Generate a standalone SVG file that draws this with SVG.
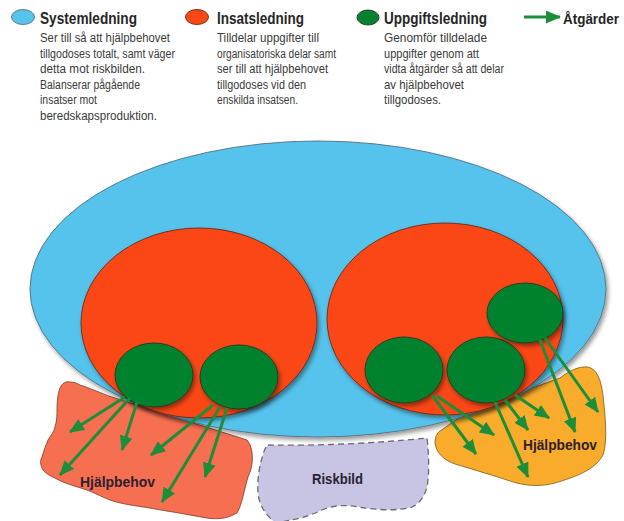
<svg xmlns="http://www.w3.org/2000/svg" width="624" height="521" viewBox="0 0 624 521">
<style>
.hd{font-family:"Liberation Sans",Arial,sans-serif;font-weight:bold;font-size:16px;fill:#262626}
.bd{font-family:"Liberation Sans",Arial,sans-serif;font-size:12.5px;fill:#3a3a3a}
.lb{font-family:"Liberation Sans",Arial,sans-serif;font-weight:bold;font-size:15px;fill:#2b2230}
.blue{fill:#56C3EC;stroke:#56707e;stroke-width:0.9}
.red{fill:#FB4714;stroke:#6b2a14;stroke-width:0.9}
.green{fill:#06812F;stroke:#1d3b22;stroke-width:0.9}
.arr{stroke:#1C8D38;stroke-width:3;fill:none;marker-end:url(#ah)}
</style>
<defs>
<marker id="ah" markerUnits="userSpaceOnUse" markerWidth="16" markerHeight="14" refX="14" refY="6.5" orient="auto">
<path d="M0,0 L15,6.5 L0,13 Z" fill="#1C8D38"/>
</marker>
<filter id="sh" x="-10%" y="-10%" width="130%" height="130%">
<feDropShadow dx="2" dy="3" stdDeviation="2" flood-color="#000" flood-opacity="0.4"/>
</filter>
</defs>

<g id="legend">
<g id="legend-system">
<ellipse class="blue" cx="23" cy="17" rx="11.5" ry="7.5" stroke="none"/>
<text class="hd" x="40" y="24" textLength="97" lengthAdjust="spacingAndGlyphs">Systemledning</text>
<text class="bd" x="40" y="42" textLength="130" lengthAdjust="spacingAndGlyphs">Ser till så att hjälpbehovet</text>
<text class="bd" x="40" y="57.6" textLength="135" lengthAdjust="spacingAndGlyphs">tillgodoses totalt, samt väger</text>
<text class="bd" x="40" y="73.2" textLength="105" lengthAdjust="spacingAndGlyphs">detta mot riskbilden.</text>
<text class="bd" x="40" y="88.8" textLength="100" lengthAdjust="spacingAndGlyphs">Balanserar pågående</text>
<text class="bd" x="40" y="104.4" textLength="57" lengthAdjust="spacingAndGlyphs">insatser mot</text>
<text class="bd" x="40" y="120" textLength="117" lengthAdjust="spacingAndGlyphs">beredskapsproduktion.</text>
</g>
<g id="legend-insats">
<ellipse class="red" cx="197" cy="17" rx="11.5" ry="7.5" stroke="none"/>
<text class="hd" x="217" y="24" textLength="87" lengthAdjust="spacingAndGlyphs">Insatsledning</text>
<text class="bd" x="217" y="42" textLength="102" lengthAdjust="spacingAndGlyphs">Tilldelar uppgifter till</text>
<text class="bd" x="217" y="57.6" textLength="119" lengthAdjust="spacingAndGlyphs">organisatoriska delar samt</text>
<text class="bd" x="217" y="73.2" textLength="111" lengthAdjust="spacingAndGlyphs">ser till att hjälpbehovet</text>
<text class="bd" x="217" y="88.8" textLength="89" lengthAdjust="spacingAndGlyphs">tillgodoses vid den</text>
<text class="bd" x="217" y="104.4" textLength="81" lengthAdjust="spacingAndGlyphs">enskilda insatsen.</text>
</g>
<g id="legend-uppgift">
<ellipse class="green" cx="368" cy="17.5" rx="11" ry="7.5" stroke="none"/>
<text class="hd" x="384" y="24" textLength="103" lengthAdjust="spacingAndGlyphs">Uppgiftsledning</text>
<text class="bd" x="384" y="42" textLength="103" lengthAdjust="spacingAndGlyphs">Genomför tilldelade</text>
<text class="bd" x="384" y="57.6" textLength="95" lengthAdjust="spacingAndGlyphs">uppgifter genom att</text>
<text class="bd" x="384" y="73.2" textLength="120" lengthAdjust="spacingAndGlyphs">vidta åtgärder så att delar</text>
<text class="bd" x="384" y="88.8" textLength="80" lengthAdjust="spacingAndGlyphs">av hjälpbehovet</text>
<text class="bd" x="384" y="104.4" textLength="57" lengthAdjust="spacingAndGlyphs">tillgodoses.</text>
</g>
<g id="legend-atgarder">
<line class="arr" x1="524" y1="17" x2="560" y2="17"/>
<text class="hd" x="563" y="24" style="font-size:14px" textLength="56" lengthAdjust="spacingAndGlyphs">Åtgärder</text>
</g>
</g>

<g id="hjalpbehov-left">
<path d="M80,385 C95,390 105,395 115,398 L247,440 C254,448 254,465 248,477 C244,490 242,505 237,513 C225,520 215,519 207,518 C195,516 185,514 173,512 C160,510 150,508 143,507 C130,505 118,503 110,500 C100,496 95,493 87,490 C78,487 70,485 63,482 C55,478 47,475 43,470 C40,465 40,460 42,457 C44,450 46,445 48,440 C51,435 54,432 55,427 C57,420 57,415 57,410 C57,400 58,393 60,388 C62,383 66,381 70,382 C74,382 77,383 80,385 Z" fill="#F66F50" stroke="#7a3a2a" stroke-width="0.8"/>
<text class="lb" x="117.5" y="487" text-anchor="middle" textLength="75" lengthAdjust="spacingAndGlyphs">Hjälpbehov</text>
</g>
<g id="riskbild">
<path d="M268,445 C320,446 380,443 427,438 C429,455 429,470 428,480 C427,493 421,503 412,507 C398,511 380,510 365,508 C352,506 338,503 322,510 C308,517 292,520 276,523 C266,516 259,505 258,493 C257,478 260,463 263,455 C264,450 266,447 268,445 Z" fill="#C8C4E4" stroke="#6a6a72" stroke-width="1.3" stroke-dasharray="6,4"/>
<text class="lb" x="337.5" y="484" text-anchor="middle" textLength="51" lengthAdjust="spacingAndGlyphs">Riskbild</text>
</g>
<g id="hjalpbehov-right">
<path d="M470,410 L560,378 C570,370 580,366 588,367 C597,369 601,380 603,395 C605,415 608,440 603,455 C595,470 575,477 555,483 C540,487 525,486 510,481 C495,476 475,470 455,464 C443,460 436,452 435,443 C435,437 437,433 440,431 Z" fill="#F9AC2C" stroke="#7a5a1a" stroke-width="0.8"/>
<text class="lb" x="560" y="450" text-anchor="middle" textLength="74" lengthAdjust="spacingAndGlyphs">Hjälpbehov</text>
</g>

<g id="systemledning">
<ellipse class="blue" cx="318" cy="289" rx="288" ry="148" filter="url(#sh)"/>
</g>
<g id="insats-left">
<ellipse class="red" cx="199" cy="323" rx="118" ry="95" filter="url(#sh)"/>
</g>
<g id="insats-right">
<ellipse class="red" cx="445" cy="319" rx="118" ry="96" filter="url(#sh)"/>
</g>
<g id="uppgift-1"><ellipse class="green" cx="154" cy="375" rx="39" ry="32" filter="url(#sh)"/></g>
<g id="uppgift-2"><ellipse class="green" cx="239" cy="377" rx="39" ry="32" filter="url(#sh)"/></g>
<g id="uppgift-3"><ellipse class="green" cx="404" cy="370" rx="39" ry="33" filter="url(#sh)"/></g>
<g id="uppgift-4"><ellipse class="green" cx="486" cy="370" rx="39" ry="33" filter="url(#sh)"/></g>
<g id="uppgift-5"><ellipse class="green" cx="525" cy="313" rx="38" ry="30" filter="url(#sh)"/></g>

<g id="connectors">
<line class="arr" x1="125" y1="397" x2="70" y2="432"/>
<line class="arr" x1="130" y1="398" x2="60" y2="475"/>
<line class="arr" x1="137" y1="402" x2="122" y2="450"/>
<line class="arr" x1="213" y1="405" x2="151" y2="455"/>
<line class="arr" x1="220" y1="407" x2="162" y2="502"/>
<line class="arr" x1="227" y1="408" x2="205" y2="477"/>
<line class="arr" x1="432" y1="395" x2="476" y2="454"/>
<line class="arr" x1="437" y1="396" x2="494" y2="435"/>
<line class="arr" x1="495" y1="402" x2="528" y2="477"/>
<line class="arr" x1="505" y1="400" x2="528" y2="430"/>
<line class="arr" x1="515" y1="395" x2="549" y2="418"/>
<line class="arr" x1="540" y1="340" x2="575" y2="432"/>
<line class="arr" x1="545" y1="338" x2="598" y2="412"/>
</g>
</svg>
